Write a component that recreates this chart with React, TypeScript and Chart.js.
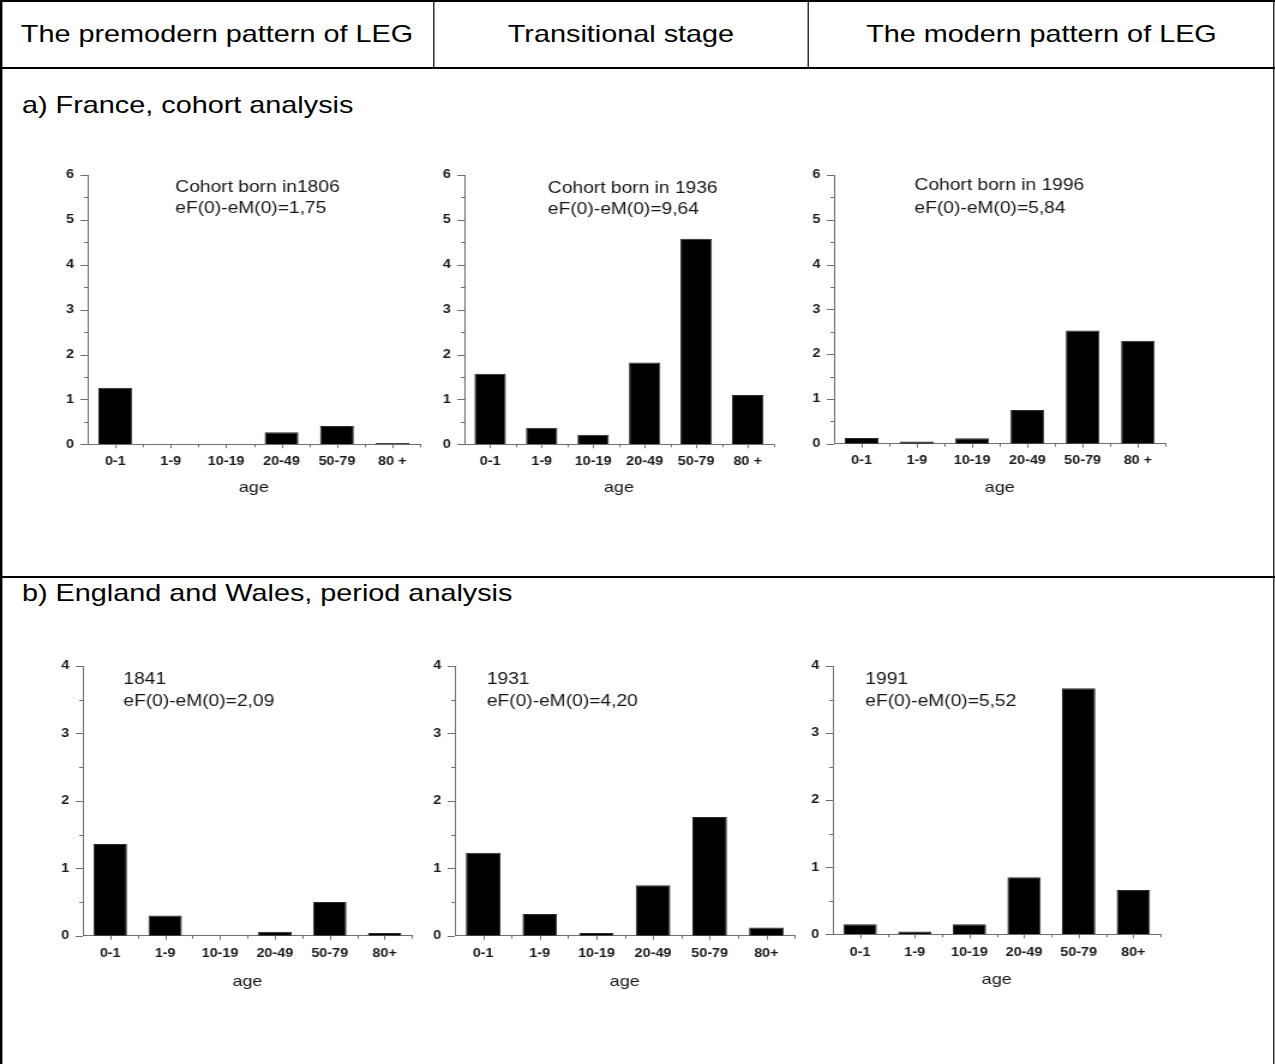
import React, { useEffect, useRef } from 'react';
import { Chart, registerables } from 'chart.js';

Chart.register(...registerables);

// ---------- data ----------
const AGE_GROUPS_COHORT = ['0-1', '1-9', '10-19', '20-49', '50-79', '80 +'];
const AGE_GROUPS_PERIOD = ['0-1', '1-9', '10-19', '20-49', '50-79', '80+'];

const FRANCE_1806 = [1.26, 0, 0, 0.27, 0.41, 0.03];
const FRANCE_1936 = [1.57, 0.37, 0.21, 1.82, 4.58, 1.1];
const FRANCE_1996 = [0.13, 0.05, 0.12, 0.75, 2.53, 2.3];
const EW_1841 = [1.36, 0.3, 0, 0.06, 0.5, 0.04];
const EW_1931 = [1.23, 0.32, 0.04, 0.75, 1.76, 0.12];
const EW_1991 = [0.15, 0.04, 0.15, 0.85, 3.67, 0.66];

const FRANCE_Y_MAX = 6;
const EW_Y_MAX = 4;

const NOTE_1806 = ['Cohort born in1806', 'eF(0)-eM(0)=1,75'];
const NOTE_1936 = ['Cohort born in 1936', 'eF(0)-eM(0)=9,64'];
const NOTE_1996 = ['Cohort born in 1996', 'eF(0)-eM(0)=5,84'];
const NOTE_1841 = ['1841', 'eF(0)-eM(0)=2,09'];
const NOTE_1931 = ['1931', 'eF(0)-eM(0)=4,20'];
const NOTE_1991 = ['1991', 'eF(0)-eM(0)=5,52'];

const HEADERS = ['The premodern pattern of LEG', 'Transitional stage', 'The modern pattern of LEG'];
const ROW_TITLES = ['a) France, cohort analysis', 'b) England and Wales, period analysis'];
const AXIS_TITLE = 'age';

// ---------- layout / style ----------
const S = 1.2; // horizontal stretch of the whole figure
const FONT = "'Liberation Sans', Arial, Helvetica, sans-serif";
const AXIS = '#6e6e6e';
const TXT = '#151515';
const TICK_TXT = '#1a1a1a';
const Y_AXIS_W = 40;
const X_AXIS_H = 55;
const PAD_L = 50;
const PAD_T = 30;
const EXTRA_R = 12;
const EXTRA_B = 70;

type Panel = {
  labels: string[];
  values: number[];
  max: number;
  note: string[];
  box: { x0: number; x1: number; top: number; zero: number };
  noteAt: { dx: number; dy1: number; dy2: number };
  xPad: number;
  titlePad: number;
};

const PANELS: Panel[] = [
  { labels: AGE_GROUPS_COHORT, values: FRANCE_1806, max: FRANCE_Y_MAX, note: NOTE_1806,
    box: { x0: 87.3, x1: 419.7, top: 175, zero: 444.3 }, noteAt: { dx: 87.7, dy1: 12.3, dy2: 33.3 }, xPad: 10, titlePad: 2 },
  { labels: AGE_GROUPS_COHORT, values: FRANCE_1936, max: FRANCE_Y_MAX, note: NOTE_1936,
    box: { x0: 464.75, x1: 773.75, top: 175, zero: 444.3 }, noteAt: { dx: 83.5, dy1: 13.3, dy2: 35 }, xPad: 10, titlePad: 2 },
  { labels: AGE_GROUPS_COHORT, values: FRANCE_1996, max: FRANCE_Y_MAX, note: NOTE_1996,
    box: { x0: 834, x1: 1165.5, top: 175, zero: 443.7 }, noteAt: { dx: 80.5, dy1: 11, dy2: 33.3 }, xPad: 10, titlePad: 2 },
  { labels: AGE_GROUPS_PERIOD, values: EW_1841, max: EW_Y_MAX, note: NOTE_1841,
    box: { x0: 82.8, x1: 412, top: 666, zero: 935.7 }, noteAt: { dx: 40.5, dy1: 14, dy2: 35.7 }, xPad: 11, titlePad: 0 },
  { labels: AGE_GROUPS_PERIOD, values: EW_1931, max: EW_Y_MAX, note: NOTE_1931,
    box: { x0: 454.7, x1: 794.5, top: 666, zero: 935.7 }, noteAt: { dx: 32, dy1: 14, dy2: 35.7 }, xPad: 11, titlePad: 0 },
  { labels: AGE_GROUPS_PERIOD, values: EW_1991, max: EW_Y_MAX, note: NOTE_1991,
    box: { x0: 832.5, x1: 1160.3, top: 666, zero: 934.3 }, noteAt: { dx: 32.5, dy1: 14, dy2: 35.7 }, xPad: 11, titlePad: 0 },
];

function BarPanel({ p }: { p: Panel }) {
  const ref = useRef<HTMLCanvasElement>(null);
  const plotW = (p.box.x1 - p.box.x0) / S;
  const plotH = p.box.zero - p.box.top;
  const left = p.box.x0 / S - PAD_L;
  const top = p.box.top - PAD_T;
  const width = Math.ceil(plotW + PAD_L + EXTRA_R);
  const height = Math.ceil(plotH + PAD_T + EXTRA_B);
  const padR = width - PAD_L - plotW;
  const padB = height - PAD_T - plotH - X_AXIS_H;

  useEffect(() => {
    const canvas = ref.current!;
    const decor = {
      id: 'decor',
      afterDraw(chart: any) {
        const { ctx, chartArea } = chart;
        const xs = chart.scales.x;
        const ys = chart.scales.y;
        ctx.save();
        ctx.strokeStyle = AXIS;
        ctx.lineWidth = 1;
        ctx.beginPath();
        for (let v = 0; v <= p.max + 1e-9; v += 0.5) {
          const py = Math.round(ys.getPixelForValue(v)) + 0.5;
          const len = Number.isInteger(v) ? 6 : 3;
          ctx.moveTo(chartArea.left - len, py);
          ctx.lineTo(chartArea.left, py);
        }
        const n = p.labels.length;
        for (let i = 0; i < n; i++) {
          const px = Math.round(xs.getPixelForValue(i)) + 0.5;
          ctx.moveTo(px, chartArea.bottom);
          ctx.lineTo(px, chartArea.bottom + 4);
          const bx = i < n - 1 ? (xs.getPixelForValue(i) + xs.getPixelForValue(i + 1)) / 2 : chartArea.right;
          const bxr = Math.round(bx) + 0.5;
          ctx.moveTo(bxr, chartArea.bottom);
          ctx.lineTo(bxr, chartArea.bottom + 3);
        }
        ctx.stroke();
        ctx.fillStyle = TXT;
        ctx.font = `16px ${FONT}`;
        ctx.textBaseline = 'middle';
        ctx.textAlign = 'left';
        const nx = chartArea.left + p.noteAt.dx / S;
        ctx.fillText(p.note[0], nx, chartArea.top + p.noteAt.dy1);
        ctx.fillText(p.note[1], nx, chartArea.top + p.noteAt.dy2);
        ctx.restore();
      },
    };
    const chart = new Chart(canvas, {
      type: 'bar',
      data: {
        labels: p.labels,
        datasets: [
          {
            data: p.values,
            backgroundColor: '#000000',
            borderColor: '#2a2a2a',
            borderWidth: 1,
            barPercentage: 0.61,
            categoryPercentage: 1,
          },
        ],
      },
      options: {
        responsive: false,
        animation: false,
        devicePixelRatio: 1,
        layout: { padding: { left: PAD_L - Y_AXIS_W, right: padR, top: PAD_T, bottom: padB } },
        plugins: { legend: { display: false }, tooltip: { enabled: false } },
        scales: {
          x: {
            type: 'category',
            offset: true,
            grid: { display: false, drawTicks: false },
            border: { display: true, color: AXIS, width: 1 },
            ticks: {
              padding: p.xPad,
              color: TICK_TXT,
              font: { family: FONT, size: 12, weight: 'bold' },
              maxRotation: 0,
              autoSkip: false,
            },
            title: {
              display: true,
              text: AXIS_TITLE,
              color: TXT,
              font: { family: FONT, size: 15 },
              padding: { top: 0, bottom: p.titlePad },
            },
            afterFit: (s: any) => {
              s.height = X_AXIS_H;
            },
          },
          y: {
            min: 0,
            max: p.max,
            grid: { display: false, drawTicks: false },
            border: { display: true, color: AXIS, width: 1 },
            ticks: {
              stepSize: 1,
              padding: 11.25,
              color: TICK_TXT,
              font: { family: FONT, size: 12, weight: 'bold' },
            },
            afterFit: (s: any) => {
              s.width = Y_AXIS_W;
            },
          },
        },
      } as any,
      plugins: [decor],
    });
    return () => chart.destroy();
  }, []);

  return (
    <canvas
      ref={ref}
      width={width}
      height={height}
      style={{ position: 'absolute', left, top, width, height }}
    />
  );
}

const LINE = '#000';

export default function App() {
  const W = 1275 / S;
  const bw = 2 / S;
  const textBase: React.CSSProperties = {
    position: 'absolute',
    fontFamily: FONT,
    fontSize: 24,
    lineHeight: '28px',
    color: '#000',
    whiteSpace: 'nowrap',
  };
  const cells = [
    [0, 434 / S],
    [434 / S, 808 / S],
    [808 / S, W],
  ];
  return (
    <div
      style={{
        position: 'absolute',
        left: 0,
        top: 0,
        width: W,
        height: 1064,
        background: '#fff',
        transform: `scaleX(${S})`,
        transformOrigin: '0 0',
        overflow: 'hidden',
      }}
    >
      {/* table lines */}
      <div style={{ position: 'absolute', left: 0, top: 0, width: W, height: 2, background: LINE }} />
      <div style={{ position: 'absolute', left: 0, top: 0, width: bw, height: 1064, background: LINE }} />
      <div style={{ position: 'absolute', left: W - bw, top: 0, width: bw, height: 1064, background: LINE }} />
      <div style={{ position: 'absolute', left: 0, top: 67, width: W, height: 2, background: LINE }} />
      <div style={{ position: 'absolute', left: 433 / S, top: 0, width: bw, height: 68, background: LINE }} />
      <div style={{ position: 'absolute', left: 807 / S, top: 0, width: bw, height: 68, background: LINE }} />
      <div style={{ position: 'absolute', left: 0, top: 576, width: W, height: 2, background: LINE }} />

      {HEADERS.map((h, i) => (
        <div
          key={h}
          style={{ ...textBase, left: cells[i][0], width: cells[i][1] - cells[i][0], top: 20.4, textAlign: 'center' }}
        >
          {h}
        </div>
      ))}
      <div style={{ ...textBase, left: 22 / S, top: 91 }}>{ROW_TITLES[0]}</div>
      <div style={{ ...textBase, left: 22 / S, top: 579 }}>{ROW_TITLES[1]}</div>

      {PANELS.map((p, i) => (
        <BarPanel key={i} p={p} />
      ))}
    </div>
  );
}
